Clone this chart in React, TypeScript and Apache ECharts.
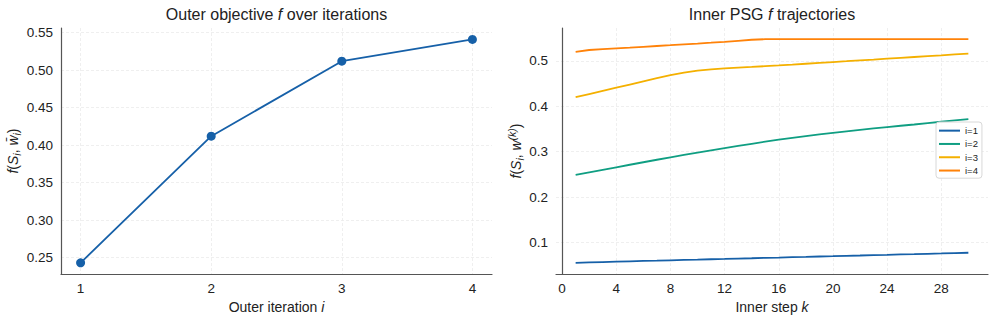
import React, { useEffect, useRef } from "react";
import * as echarts from "echarts";

const outerIter = [1, 2, 3, 4];
const outerF = [0.243, 0.412, 0.512, 0.541];

const innerSteps = [1, 2, 3, 4, 5, 6, 7, 8, 9, 10, 11, 12, 13, 14, 15, 16, 17, 18, 19, 20, 21, 22, 23, 24, 25, 26, 27, 28, 29, 30];
const innerI1 = [0.0556, 0.0564, 0.0572, 0.058, 0.0588, 0.0596, 0.0603, 0.0611, 0.0619, 0.0626,
  0.0634, 0.0641, 0.0649, 0.0656, 0.0664, 0.0671, 0.0679, 0.0686, 0.0694, 0.0701,
  0.0709, 0.0716, 0.0724, 0.0731, 0.0739, 0.0746, 0.0754, 0.0761, 0.0769, 0.0777];
const innerI2 = [0.249, 0.2546, 0.2602, 0.2658, 0.2714, 0.2769, 0.2824, 0.2878, 0.293, 0.2981,
  0.3031, 0.308, 0.3128, 0.3175, 0.3221, 0.3265, 0.3306, 0.3345, 0.3382, 0.3417,
  0.345, 0.3482, 0.3513, 0.3543, 0.3572, 0.36, 0.363, 0.366, 0.369, 0.372];
const innerI3 = [0.42, 0.427, 0.434, 0.441, 0.448, 0.455, 0.462, 0.4685, 0.474, 0.4785,
  0.4815, 0.4835, 0.4851, 0.4867, 0.4884, 0.49, 0.4918, 0.4937, 0.4956, 0.4975,
  0.4993, 0.5012, 0.503, 0.5049, 0.5068, 0.5086, 0.5105, 0.5123, 0.5142, 0.516];
const innerI4 = [0.52, 0.524, 0.5258, 0.5275, 0.5292, 0.531, 0.5328, 0.5345, 0.5363, 0.5381,
  0.54, 0.542, 0.5442, 0.5465, 0.5478, 0.5478, 0.5478, 0.5478, 0.5478, 0.5478,
  0.5478, 0.5478, 0.5478, 0.5478, 0.5478, 0.5478, 0.5478, 0.5478, 0.5478, 0.5478];
const innerNames = ["i=1", "i=2", "i=3", "i=4"];
const innerColors = ["#1660a8", "#0f9e82", "#f4b000", "#ff8209"];

const leftXTicks = [1, 2, 3, 4];
const leftYTicks = [0.25, 0.3, 0.35, 0.4, 0.45, 0.5, 0.55];
const rightXTicks = [0, 4, 8, 12, 16, 20, 24, 28];
const rightYTicks = [0.1, 0.2, 0.3, 0.4, 0.5];

const FONT = "'Liberation Sans', Arial, Helvetica, sans-serif";
const TXT = "#222";

const splitLine = { show: true, lineStyle: { color: "#ebebeb", width: 0.8, type: [3, 2] } };
const axisLine = { show: true, lineStyle: { color: "#555", width: 1.2 } };

const labRich = {
  n: { fontSize: 14, fontFamily: FONT, color: TXT, lineHeight: 19, verticalAlign: "middle" },
  it: { fontSize: 14, fontFamily: FONT, color: TXT, fontStyle: "italic", lineHeight: 19, verticalAlign: "middle" },
  sub: { fontSize: 10.5, fontFamily: FONT, color: TXT, fontStyle: "italic", lineHeight: 11, verticalAlign: "bottom" },
  sup: { fontSize: 10.5, fontFamily: FONT, color: TXT, fontStyle: "italic", lineHeight: 11, verticalAlign: "top" },
};

function xAxis(grid: number, min: number, max: number, ticks: number[], name: string, fmt: (v: number) => string) {
  return {
    type: "value", gridIndex: grid, min, max,
    axisLine, axisTick: { show: false, customValues: ticks },
    axisLabel: { customValues: ticks, fontSize: 13.5, color: TXT, fontFamily: FONT, margin: 7, formatter: fmt },
    splitLine,
    name, nameLocation: "middle", nameGap: 20,
    nameTextStyle: { rich: labRich, fontSize: 14, color: TXT, fontFamily: FONT },
  };
}
function yAxis(grid: number, min: number, max: number, ticks: number[], name: string, fmt: (v: number) => string, gap: number) {
  return {
    type: "value", gridIndex: grid, min, max,
    axisLine, axisTick: { show: false, customValues: ticks },
    axisLabel: { customValues: ticks, fontSize: 13.5, color: TXT, fontFamily: FONT, margin: 8, formatter: fmt },
    splitLine,
    name, nameLocation: "middle", nameGap: gap, nameRotate: 90,
    nameTextStyle: { rich: labRich, fontSize: 14, color: TXT, fontFamily: FONT },
  };
}

export default function App() {
  const ref = useRef<HTMLDivElement>(null);
  useEffect(() => {
    if (!ref.current) return;
    const chart = echarts.init(ref.current, null, { renderer: "svg" });
    const inner = [innerI1, innerI2, innerI3, innerI4];
    chart.setOption({
      animation: false,
      backgroundColor: "#fff",
      title: [
        {
          text: "Outer objective {it|f} over iterations", left: 276.5, top: 6, textAlign: "center", padding: 0,
          textStyle: { fontSize: 16, fontWeight: "normal", color: TXT, fontFamily: FONT, rich: { it: { fontSize: 16, fontStyle: "italic", color: TXT, fontFamily: FONT } } },
        },
        {
          text: "Inner PSG {it|f} trajectories", left: 772, top: 6, textAlign: "center", padding: 0,
          textStyle: { fontSize: 16, fontWeight: "normal", color: TXT, fontFamily: FONT, rich: { it: { fontSize: 16, fontStyle: "italic", color: TXT, fontFamily: FONT } } },
        },
      ],
      grid: [
        { left: 61, top: 28, width: 431, height: 246 },
        { left: 556, top: 28, width: 432, height: 246 },
      ],
      xAxis: [
        xAxis(0, 0.85, 4.15, leftXTicks, "{n|Outer iteration }{it|i}", (v: number) => String(v)),
        xAxis(1, -0.45, 31.45, rightXTicks, "{n|Inner step }{it|k}", (v: number) => String(v)),
      ],
      yAxis: [
        yAxis(0, 0.2281, 0.5563, leftYTicks, "{it|f}{n|(}{it|S}{sub|i}{n|, }{it|w\u0304}{sub|i}{n|)}", (v: number) => v.toFixed(2), 25),
        yAxis(1, 0.0309, 0.5724, rightYTicks, "{it|f}{n|(}{it|S}{sub|i}{n|, }{it|w}{sup|(k)}{n|)}", (v: number) => v.toFixed(1), 24),
      ],
      legend: {
        data: innerNames, orient: "vertical", left: 936, top: 122,
        icon: "rect", itemWidth: 21, itemHeight: 2, itemGap: 0,
        textStyle: { fontSize: 9.5, lineHeight: 13.3, color: TXT, fontFamily: FONT },
        padding: [2, 4, 1, 3], borderColor: "#d8d8d8", borderWidth: 1, borderRadius: 3,
        backgroundColor: "rgba(255,255,255,0.85)",
      },
      series: [
        {
          type: "line", xAxisIndex: 0, yAxisIndex: 0,
          data: outerIter.map((x, j) => [x, outerF[j]]),
          symbol: "circle", symbolSize: 9, showSymbol: true,
          lineStyle: { color: "#1660a8", width: 1.8 },
          itemStyle: { color: "#1660a8" },
        },
        ...inner.map((vals, s) => ({
          type: "line", name: innerNames[s], xAxisIndex: 1, yAxisIndex: 1,
          data: innerSteps.map((k, j) => [k, vals[j]]),
          showSymbol: false, symbol: "none",
          lineStyle: { color: innerColors[s], width: 1.8 },
          itemStyle: { color: innerColors[s] },
        })),
      ],
    });
    return () => chart.dispose();
  }, []);
  return <div ref={ref} style={{ position: "absolute", left: 0, top: 0, width: 996, height: 323 }} />;
}
